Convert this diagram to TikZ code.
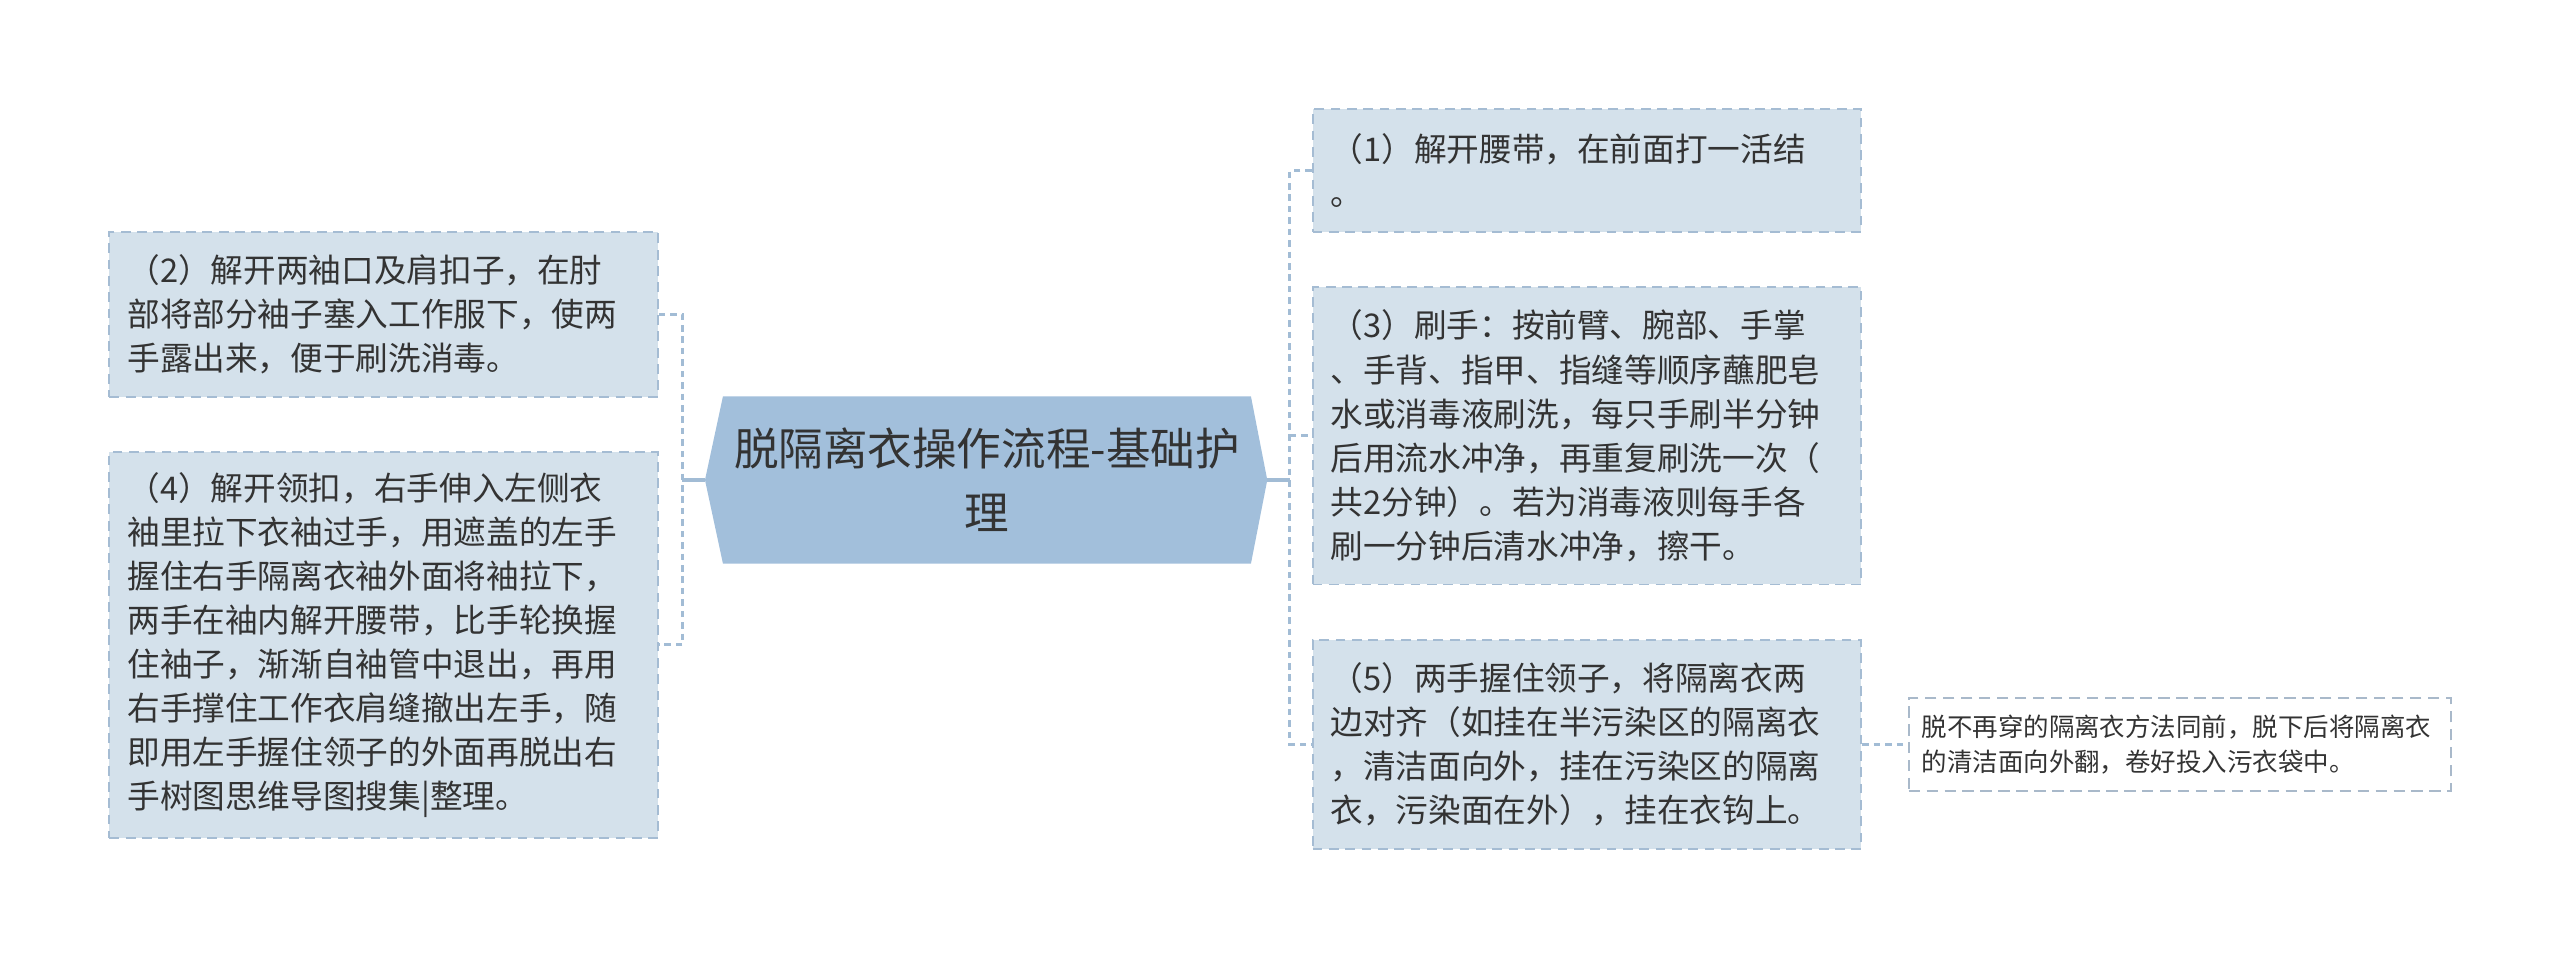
\documentclass[tikz,border=0pt]{standalone}
\usepackage{fontspec}
\setmainfont{Noto Sans CJK SC}
\usetikzlibrary{backgrounds}
\definecolor{boxfill}{HTML}{D4E1EB}
\definecolor{boxline}{HTML}{A5BCD3}
\definecolor{centerfill}{HTML}{A2BFDB}
\definecolor{connline}{HTML}{A2BCD5}
\definecolor{txt}{HTML}{333333}
\definecolor{noteline}{HTML}{A9B9CA}
\begin{document}
\begin{tikzpicture}[x=1pt,y=-1pt,
  leaf/.style={draw=boxline, fill=boxfill, line width=1.2pt, dash pattern=on 6pt off 4pt,
    text width=314pt, inner xsep=11pt, inner ysep=0pt, align=left,
    font=\fontsize{20pt}{27pt}\selectfont, text=txt},
  note/.style={draw=noteline, fill=white, line width=1.2pt, dash pattern=on 7pt off 4pt,
    text width=316pt, inner xsep=8pt, inner ysep=0pt, align=left,
    font=\fontsize{15.6pt}{21.5pt}\selectfont, text=txt},
  title/.style={inner sep=0pt, align=center, text=txt,
    font=\fontsize{27.3pt}{39pt}\selectfont},
  conn/.style={draw=connline, line width=1.9pt, dash pattern=on 4pt off 3pt},
  trunk/.style={draw=connline, line width=2.2pt}]
\useasboundingbox (0,0) rectangle (1568,588);

% central topic
\node[title, minimum width=323pt, minimum height=102pt] (c) at (604.5,294)
  {脱隔离衣操作流程-基础护\\理};
\coordinate (cl) at ([xshift=-11pt]c.west);
\coordinate (cr) at ([xshift=10pt]c.east);
\begin{pgfonlayer}{background}
  \fill[centerfill] (c.north west) -- (cl) -- (c.south west) -- (c.south east)
    -- (cr) -- (c.north east) -- cycle;
\end{pgfonlayer}

% left branches
\node[leaf, minimum height=101pt] (b2) at (235,192.5)
  {（2）解开两袖口及肩扣子，在肘\\部将部分袖子塞入工作服下，使两\\手露出来，便于刷洗消毒。};
\node[leaf, minimum height=236pt] (b4) at (235,395)
  {（4）解开领扣，右手伸入左侧衣\\袖里拉下衣袖过手，用遮盖的左手\\握住右手隔离衣袖外面将袖拉下，\\两手在袖内解开腰带，比手轮换握\\住袖子，渐渐自袖管中退出，再用\\右手撑住工作衣肩缝撤出左手，随\\即用左手握住领子的外面再脱出右\\手树图思维导图搜集|整理。};

% right branches
\node[leaf, minimum height=75pt] (b1) at (972,104.5)
  {（1）解开腰带，在前面打一活结\\。};
\node[leaf, minimum height=182pt] (b3) at (972,267)
  {（3）刷手：按前臂、腕部、手掌\\、手背、指甲、指缝等顺序蘸肥皂\\水或消毒液刷洗，每只手刷半分钟\\后用流水冲净，再重复刷洗一次（\\共2分钟）。若为消毒液则每手各\\刷一分钟后清水冲净，擦干。};
\node[leaf, minimum height=128pt] (b5) at (972,456)
  {（5）两手握住领子，将隔离衣两\\边对齐（如挂在半污染区的隔离衣\\，清洁面向外，挂在污染区的隔离\\衣，污染面在外），挂在衣钩上。};

% note
\node[note, minimum height=57pt] (n5) at (1335,456)
  {脱不再穿的隔离衣方法同前，脱下后将隔离衣\\的清洁面向外翻，卷好投入污衣袋中。};

% spines
\coordinate (ls) at (418,294);
\coordinate (rs) at (790,294);

\draw[trunk] (cl) -- (ls);
\draw[trunk] (cr) -- (rs);

\draw[conn] (b2.east) -- (b2.east -| ls) -- (b4.east -| ls) -- (b4.east);
\draw[conn] (b1.west) -- (b1.west -| rs) -- (b5.west -| rs) -- (b5.west);
\draw[conn] (b3.west -| rs) -- (b3.west);
\draw[conn] (b5.east) -- (n5.west);
\end{tikzpicture}
\end{document}
